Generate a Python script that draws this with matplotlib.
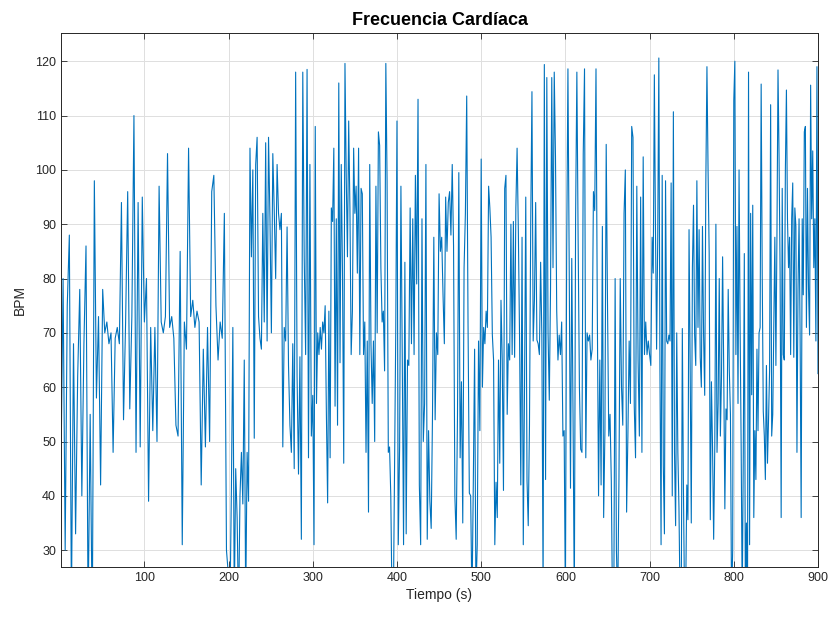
import numpy as np
import matplotlib
matplotlib.use("Agg")
import matplotlib.pyplot as plt

plt.rcParams['font.family'] = ['Liberation Sans', 'DejaVu Sans']

# BPM leído por tramos de ~100 s (inicio de cada tramo en seg_starts)
seg_starts = [1, 100, 200, 300, 400, 500, 600, 703, 800, 900]

seg_000 = [45, 80, 30, 75, 88, 20, 68, 33, 62, 78, 40, 68, 86, 18, 55, 15, 98, 58, 73, 42,
           78, 70, 72, 68, 70, 48, 69, 71, 68, 94, 54, 72, 96, 56, 73, 110, 48, 94, 49, 95]
seg_100 = [72, 80, 39, 71, 52, 71, 50, 97, 72, 70, 73, 103, 71, 73, 69, 53, 51, 85, 31, 72,
           67, 104, 73, 76, 71, 74, 72, 42, 67, 49, 71, 50, 96, 99, 75, 65, 72, 69, 92, 30]
seg_200 = [25, 20, 41.5, 71, 20, 45, 36, 18, 40, 48, 38.5, 65, 20, 48, 39, 104, 84, 100, 50.6, 101,
           106, 73, 69, 67, 92, 72, 105, 68.5, 106, 91, 70, 103, 92.5, 80, 101, 92, 89, 92, 49, 71,
           68.5, 89.5, 64, 53, 48, 68, 45, 118, 62, 44, 65.6, 32, 118, 84, 66, 118.5, 47, 101, 51]
seg_300 = [58.5, 31, 108, 57, 70, 66, 71, 67, 72, 70, 75, 55, 38.7, 74, 47, 93, 90.5, 104, 56.5, 91,
           53, 116, 64.5, 101, 81, 46, 119.6, 99, 84, 109, 93, 66, 74, 104, 92, 97, 81, 104, 66, 96.6,
           95.6, 66, 72, 48, 68.5, 37, 101, 68, 57, 68.5, 50, 97, 70, 107, 104.5, 82, 72, 74, 63, 119.6,
           98, 48, 49, 40, 20, 18, 45, 70]
seg_400 = [109, 31, 49, 97, 66, 31, 83, 33, 65, 64, 93, 68, 91, 66, 99, 79, 113, 42, 31, 91,
           50, 57, 101, 32, 52, 39, 34, 55, 87.6, 54, 70, 66, 95.6, 85, 87.6, 77, 68, 95, 85, 94,
           96, 88, 101, 86, 40, 32, 55, 99.5, 47, 61, 35, 82, 92, 113.6, 72, 40.5, 40, 20, 42, 67,
           22, 31, 68.5, 52]
seg_500 = [102, 60, 71, 68, 74, 71, 97, 93, 87.6, 69.7, 65, 31, 42.5, 36, 65, 46, 76, 65, 41, 96.6,
           99, 55, 68, 65, 90, 66, 90.5, 65.5, 93, 104, 89, 69, 42, 87.6, 31, 60, 95, 43, 34.5, 53,
           90, 114.4, 68.5, 76, 94, 68.7, 68, 66, 83, 69.5, 22, 119.4, 43, 117, 70, 57.6, 78, 117, 82, 118,
           102.4, 74, 65, 69.6, 66, 72, 51, 52]
seg_600 = [20, 84.6, 118.6, 82, 41.4, 83.7, 55, 20, 91, 118, 87, 60, 48.6, 48, 103, 118.6, 47, 70, 68.5, 69.6,
           65, 67, 96, 92.5, 118.6, 75, 40, 65, 42, 89.6, 36, 52, 104.7, 76, 51, 55, 42.7, 18, 22, 80,
           30, 20, 43, 80, 60, 53, 92, 100, 37, 51, 68.5, 57, 108, 106, 56.5, 47, 97, 65, 51, 95,
           48, 102.4, 66, 72, 66, 68.5, 66, 64]
seg_700 = [87.6, 81, 117.5, 89, 67, 87, 120.6, 63, 31, 99, 45.6, 33, 98, 68.5, 68, 69.6, 68.5, 97.6, 40, 110.7,
           48, 34.5, 70, 48, 37.7, 20, 18, 70.8, 41, 20, 22, 42, 35.6, 89, 64, 35, 82, 93.5, 69.6, 64,
           98, 71, 89, 65.5, 60, 89.6, 69.6, 58.5, 97.6, 119, 100, 84.6, 35.6, 61, 49, 32, 49, 90, 48, 57,
           80, 51, 62, 84, 63, 37.6, 56, 54, 78, 63, 55, 20, 30]
seg_800 = [112.8, 120, 66, 89.6, 57, 100, 71, 49, 20, 47, 84.6, 20, 35, 18, 118, 31, 92, 58.6, 93.5, 36,
           52, 43, 67, 52, 70, 71, 115.8, 81, 55.6, 51, 43, 64, 46, 54, 63, 112, 51, 55, 71, 87.6,
           64, 88, 118.4, 102.4, 81, 36, 96.6, 66, 65, 100, 114.7, 91, 82, 87.6, 66, 91, 97.6, 65.5, 93, 89.6,
           48, 78, 91, 69.6, 36, 91, 77, 107, 108, 71, 96.6, 78, 69.6, 115.6, 91, 103.5, 82, 91, 68.5, 119, 62.5]

segments = [seg_000, seg_100, seg_200, seg_300, seg_400, seg_500, seg_600, seg_700, seg_800]

x_ticks = [100, 200, 300, 400, 500, 600, 700, 800, 900]
y_ticks = [30, 40, 50, 60, 70, 80, 90, 100, 110, 120]

# armar el eje de tiempo de cada tramo
t_parts = []
for i, seg in enumerate(segments):
    last = i == len(segments) - 1
    t_parts.append(np.linspace(seg_starts[i], seg_starts[i + 1], len(seg), endpoint=last))
t = np.concatenate(t_parts)
bpm = np.concatenate([np.array(s, dtype=float) for s in segments])

fig = plt.figure(figsize=(8.34, 6.18), dpi=100)
ax = fig.add_axes([61 / 834, 1 - 567 / 618, (818 - 61) / 834, (567 - 33) / 618])

ax.plot(t, bpm, color='#0072BD', linewidth=0.8)

ax.set_xlim(1, 900)
ax.set_ylim(26.9, 125.2)
ax.set_xticks(x_ticks)
ax.set_yticks(y_ticks)
ax.grid(True, color='#dfdfdf', linewidth=0.7)
ax.set_axisbelow(True)

ax.tick_params(direction='in', length=4, width=0.6, colors='#262626', labelsize=9,
               top=True, right=True)
for s in ax.spines.values():
    s.set_color('#262626')
    s.set_linewidth(0.7)

ax.set_title('Frecuencia Cardíaca', fontsize=13, fontweight='bold', color='#000000', pad=6)
ax.set_xlabel('Tiempo (s)', fontsize=10, color='#262626', labelpad=3)
ax.set_ylabel('BPM', fontsize=10, color='#262626', labelpad=6)

fig.savefig('out.png', dpi=100)
